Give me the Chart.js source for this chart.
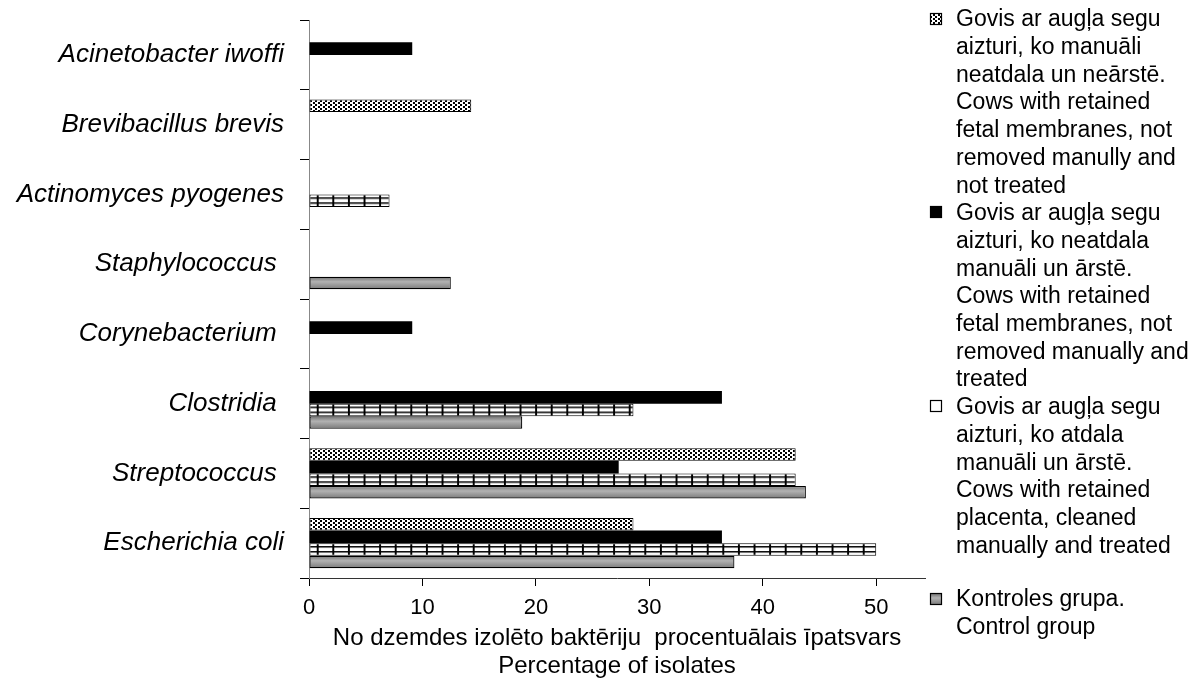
<!DOCTYPE html>
<html>
<head>
<meta charset="utf-8">
<script src="https://cdn.jsdelivr.net/npm/chart.js@4.4.1/dist/chart.umd.min.js"></script>
<style>
  html, body { margin: 0; padding: 0; background: #fff; }
  #wrap { width: 1195px; height: 680px; position: relative; }
</style>
</head>
<body>
<div id="wrap"><canvas id="c" width="1195" height="680"></canvas></div>
<script>
// ---- data ----
const categories = [
  'Acinetobacter iwoffi',
  'Brevibacillus brevis',
  'Actinomyces pyogenes',
  'Staphylococcus ',
  'Corynebacterium ',
  'Clostridia ',
  'Streptococcus ',
  'Escherichia coli'
];
const notRemovedNotTreated = [null, 14.3, null, null, null, null, 42.9, 28.6];
const notRemovedTreated    = [9.1, null, null, null, 9.1, 36.4, 27.3, 36.4];
const removedTreated       = [null, null, 7.1, null, null, 28.6, 42.9, 50.0];
const controlGroup         = [null, null, null, 12.5, null, 18.8, 43.8, 37.5];
const xTicks = [0, 10, 20, 30, 40, 50];

const legendLines = [
  ['Govis ar augļa segu', 'aizturi, ko manuāli', 'neatdala un neārstē.', 'Cows with retained', 'fetal membranes, not', 'removed manully and', 'not treated'],
  ['Govis ar augļa segu', 'aizturi, ko neatdala', 'manuāli un ārstē.', 'Cows with retained', 'fetal membranes, not', 'removed manually and', 'treated'],
  ['Govis ar augļa segu', 'aizturi, ko atdala', 'manuāli un ārstē.', 'Cows with retained', 'placenta, cleaned', 'manually and treated'],
  ['Kontroles grupa.', 'Control group']
];
const xTitle = ['No dzemdes izolēto baktēriju  procentuālais īpatsvars', 'Percentage of isolates'];

// ---- styling helpers ----
const FONT = '"Liberation Sans", Arial, sans-serif';
const CAT_PCT = 0.72;

function makeTile(w, h, draw) {
  const c = document.createElement('canvas');
  c.width = w; c.height = h;
  const g = c.getContext('2d');
  g.fillStyle = '#fff'; g.fillRect(0, 0, w, h);
  g.fillStyle = '#000';
  draw(g);
  return c;
}
const mainCtx = document.getElementById('c').getContext('2d');
const dotTile = makeTile(5, 4, g => {
  g.fillRect(0, 0, 2, 2);
  g.fillRect(3, 2, 2, 2);
});
const dotPattern = mainCtx.createPattern(dotTile, 'repeat');

const hatchTile = makeTile(16, 70, g => {
  g.fillRect(0, 0, 2, 70);
  g.fillRect(0, 58, 16, 1.5);
  g.fillRect(0, 63, 16, 1.5);
});
const hatchPattern = mainCtx.createPattern(hatchTile, 'repeat');
try {
  hatchPattern.setTransform(new DOMMatrix().translate(4.7, 0).scale(15.6 / 16, 69.75 / 70));
} catch (e) {}

function grayFill(ctx) {
  const chart = ctx.chart;
  const ys = chart.scales && chart.scales.y;
  if (ctx.type !== 'data' || !ys || !chart.chartArea) return '#979797';
  const cat = (ys.bottom - ys.top) / categories.length;
  const center = ys.getPixelForValue(ctx.dataIndex);
  const bar = cat * CAT_PCT / 4;
  const top = center - cat * CAT_PCT / 2 + bar * 3;
  const gr = chart.ctx.createLinearGradient(0, top, 0, top + bar);
  gr.addColorStop(0, '#707070');
  gr.addColorStop(0.4, '#b2b2b2');
  gr.addColorStop(1, '#7a7a7a');
  return gr;
}

function legendGrayFill(c, x, y, s) {
  const gr = c.createLinearGradient(0, y, 0, y + s);
  gr.addColorStop(0, '#707070');
  gr.addColorStop(0.4, '#b2b2b2');
  gr.addColorStop(1, '#7a7a7a');
  return gr;
}

// ---- custom multi-line legend ----
const legendPlugin = {
  id: 'multiLegend',
  afterDraw(chart) {
    const c = chart.ctx;
    c.save();
    c.font = '23px ' + FONT;
    c.fillStyle = '#000';
    c.textAlign = 'left';
    c.textBaseline = 'alphabetic';
    const textX = 956;
    const step = 27.7;
    let capCenter = 18;
    const starts = [];
    legendLines.forEach((lines, i) => {
      if (i === 3) capCenter = 598;
      starts.push(capCenter);
      lines.forEach(t => {
        c.fillText(t, textX, capCenter + 8.3);
        capCenter += step;
      });
    });
    // markers
    const mx = 930, s = 11;
    starts.forEach((cy, i) => {
      const y = Math.round(cy - s / 2) + 0.5;
      const x = mx + 0.5;
      if (i === 0) {
        c.fillStyle = dotPattern; c.fillRect(x, y, s, s);
      } else if (i === 1) {
        c.fillStyle = '#000'; c.fillRect(x, y, s, s);
      } else if (i === 2) {
        c.fillStyle = '#fff'; c.fillRect(x, y, s, s);
      } else {
        c.fillStyle = legendGrayFill(c, x, y, s); c.fillRect(x, y, s, s);
      }
      c.strokeStyle = '#000'; c.lineWidth = 1.2;
      c.strokeRect(x, y, s, s);
    });
    c.restore();
  }
};

const common = { borderSkipped: false, categoryPercentage: CAT_PCT, barPercentage: 1.0 };

new Chart(document.getElementById('c'), {
  type: 'bar',
  data: {
    labels: categories,
    datasets: [
      Object.assign({ label: legendLines[0].join(' '), data: notRemovedNotTreated,
        backgroundColor: dotPattern, borderColor: '#000', borderWidth: 1 }, common),
      Object.assign({ label: legendLines[1].join(' '), data: notRemovedTreated,
        backgroundColor: '#000', borderColor: '#000', borderWidth: 0 }, common),
      Object.assign({ label: legendLines[2].join(' '), data: removedTreated,
        backgroundColor: hatchPattern, borderColor: '#000', borderWidth: 1 }, common),
      Object.assign({ label: legendLines[3].join(' '), data: controlGroup,
        backgroundColor: grayFill, borderColor: '#000', borderWidth: 1.2 }, common)
    ]
  },
  options: {
    indexAxis: 'y',
    responsive: false,
    animation: false,
    devicePixelRatio: 1,
    layout: { padding: { left: 0, right: 270, top: 20, bottom: 0 } },
    plugins: {
      legend: { display: false },
      tooltip: { enabled: false }
    },
    scales: {
      x: {
        type: 'linear',
        min: 0,
        max: 54.3,
        afterFit(s) { s.height = 102; s.paddingLeft = 0; s.paddingRight = 0; },
        afterBuildTicks(s) { s.ticks = xTicks.map(v => ({ value: v })); },
        ticks: {
          includeBounds: false,
          stepSize: 10,
          color: '#000',
          padding: 9,
          font: { family: FONT, size: 22 }
        },
        grid: { display: true, drawOnChartArea: false, drawTicks: true, tickLength: 8, color: '#000', lineWidth: 1 },
        border: { display: true, color: '#333', width: 1 },
        title: {
          display: true,
          text: xTitle,
          color: '#000',
          font: { family: FONT, size: 24, lineHeight: 1.17 },
          padding: { top: 0, bottom: 0 }
        }
      },
      y: {
        type: 'category',
        afterFit(s) { s.width = 309; s.paddingTop = 0; s.paddingBottom = 0; },
        ticks: {
          color: '#000',
          padding: 16,
          font: { family: FONT, size: 26, style: 'italic' }
        },
        grid: { display: true, offset: true, drawOnChartArea: false, drawTicks: true, tickLength: 9, color: '#000', lineWidth: 1 },
        border: { display: true, color: '#888', width: 1 }
      }
    }
  },
  plugins: [legendPlugin]
});
</script>
</body>
</html>
